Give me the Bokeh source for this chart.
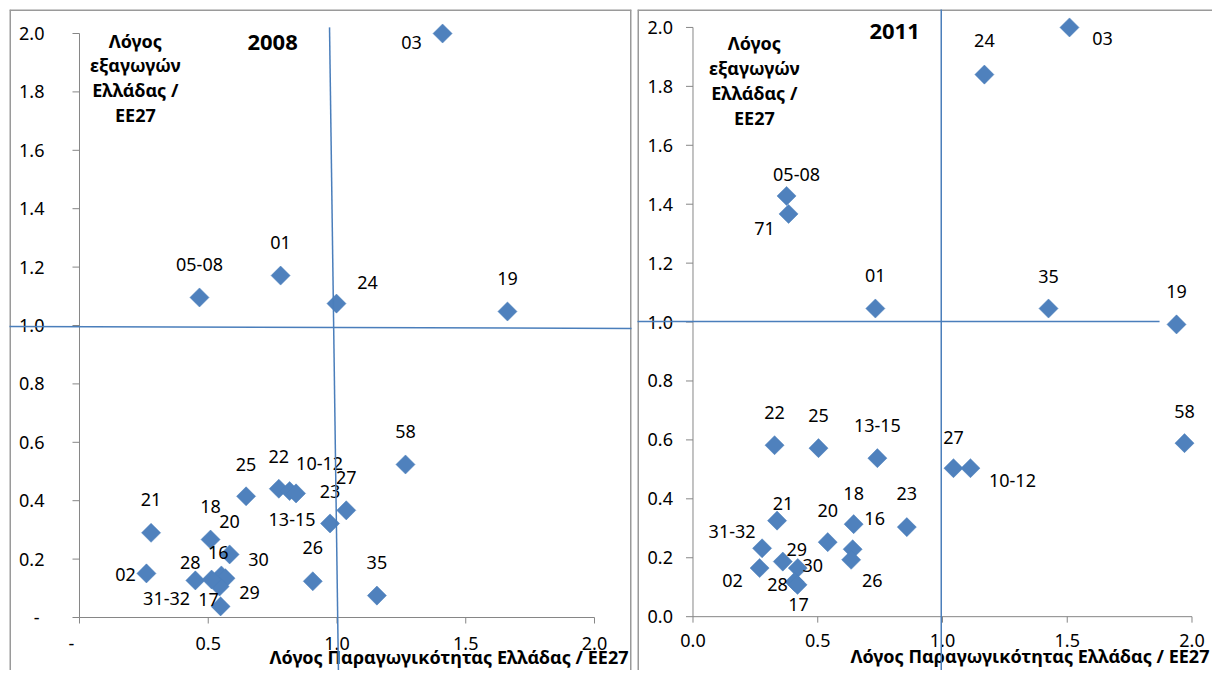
import numpy as np
from bokeh.plotting import figure
from bokeh.layouts import row
from bokeh.models import Range1d
from bokeh.core.properties import value
from bokeh.embed import file_html
from bokeh.resources import INLINE

FONT = value("Noto Sans")
BLUE = "#4f81bd"
LINE_BLUE = "#4a7ebb"
AXIS_GRAY = "#868686"
FRAME_GRAY = "#9a9a9a"

# ---------------- data ----------------
codes_2008 = ["03", "05-08", "01", "24", "19", "58", "25", "22", "10-12", "23",
              "13-15", "27", "21", "18", "20", "16", "30", "28", "29", "31-32",
              "17", "02", "26", "35"]
prod_2008 = [1.410, 0.466, 0.781, 0.998, 1.662, 1.266, 0.647, 0.774, 0.816, 0.841,
             0.973, 1.036, 0.278, 0.509, 0.583, 0.551, 0.567, 0.450, 0.544, 0.513,
             0.548, 0.260, 0.906, 1.155]
exp_2008 = [2.000, 1.096, 1.171, 1.075, 1.048, 0.524, 0.415, 0.441, 0.433, 0.425,
            0.322, 0.367, 0.290, 0.267, 0.216, 0.144, 0.134, 0.127, 0.106, 0.130,
            0.038, 0.151, 0.124, 0.075]

codes_2011 = ["03", "24", "05-08", "71", "01", "35", "19", "58", "22", "25",
              "13-15", "27", "10-12", "18", "23", "16", "26", "20", "21", "31-32",
              "29", "30", "02", "28", "17"]
prod_2011 = [1.509, 1.168, 0.375, 0.383, 0.731, 1.425, 1.938, 1.970, 0.327, 0.503,
             0.739, 1.044, 1.112, 0.644, 0.857, 0.640, 0.634, 0.540, 0.337, 0.277,
             0.360, 0.420, 0.267, 0.407, 0.419]
exp_2011 = [2.000, 1.840, 1.428, 1.367, 1.046, 1.046, 0.992, 0.589, 0.582, 0.572,
            0.538, 0.504, 0.504, 0.314, 0.304, 0.229, 0.193, 0.253, 0.326, 0.232,
            0.187, 0.165, 0.165, 0.118, 0.108]

x_ticks = [0.0, 0.5, 1.0, 1.5, 2.0]
y_ticks = [0.0, 0.2, 0.4, 0.6, 0.8, 1.0, 1.2, 1.4, 1.6, 1.8, 2.0]
x_tick_labels_2008 = ["-", "0.5", "1.0", "1.5", "2.0"]
y_tick_labels_2008 = ["-", "0.2", "0.4", "0.6", "0.8", "1.0", "1.2", "1.4", "1.6", "1.8", "2.0"]
x_tick_labels_2011 = ["0.0", "0.5", "1.0", "1.5", "2.0"]
y_tick_labels_2011 = ["0.0", "0.2", "0.4", "0.6", "0.8", "1.0", "1.2", "1.4", "1.6", "1.8", "2.0"]

x_title = "Λόγος Παραγωγικότητας Ελλάδας / ΕΕ27"
y_title_lines = ["Λόγος", "εξαγωγών", "Ελλάδας /", "ΕΕ27"]

# quadrant reference lines (x list, y list)
ref_2008_h = ([-0.30, 2.15], [0.997, 0.990])
ref_2008_v = ([0.971, 1.006], [2.021, -0.209])
ref_2011_h = ([-0.25, 1.870], [1.002, 1.002])
ref_2011_v = ([0.995, 0.995], [2.10, -0.21])

# ---------------- layout (label offsets in px: dx right, dy down) ----------------
offs_2008 = [(-31, 9), (0, -33), (0, -33), (31, -21), (0, -33), (0, -33), (0, -32),
             (0, -32), (30, -28), (34, -2), (-38, -4), (0, -33), (0, -33), (0, -33),
             (0, -33), (-3, -23), (33, -19), (-5, -18), (30, 6), (-45, 19), (-12, -7),
             (-21, 1), (0, -34), (0, -33)]
offs_2011 = [(33, 11), (0, -34), (10, -22), (-24, 15), (0, -33), (0, -32), (0, -33),
             (0, -32), (0, -33), (0, -33), (0, -33), (0, -31), (42, 12), (0, -31),
             (0, -34), (22, -31), (21, 21), (0, -32), (6, -17), (-30, -17), (14, -12),
             (15, -3), (-27, 12), (-17, 3), (1, 20)]


def panel(codes, xs, ys, offs, xtl, ytl, year, ref_h, ref_v, cfg):
    W, H = cfg["W"], cfg["H"]
    ml, mr, mt = cfg["mb"]
    xr, yr = cfg["xr"], cfg["yr"]
    fw, fh = W - ml - mr, H - mt
    sx = fw / (xr[1] - xr[0])
    sy = fh / (yr[1] - yr[0])

    p = figure(width=W, height=H, x_range=Range1d(*xr), y_range=Range1d(*yr),
               output_backend="svg", toolbar_location=None,
               x_axis_location=None, y_axis_location=None,
               min_border_left=ml, min_border_right=mr, min_border_top=mt,
               min_border_bottom=0)
    p.title.visible = False
    p.grid.visible = False
    p.outline_line_color = None
    p.background_fill_color = "white"
    p.border_fill_color = "white"

    # chart-area frame edges
    ex, ey = [], []
    if "left" in cfg["edges"]:
        ex.append([xr[0], xr[0]]); ey.append([yr[0], yr[1]])
    if "top" in cfg["edges"]:
        ex.append([xr[0], xr[1]]); ey.append([yr[1], yr[1]])
    if "right" in cfg["edges"]:
        ex.append([xr[1], xr[1]]); ey.append([yr[0], yr[1]])
    p.multi_line(ex, ey, line_color=FRAME_GRAY, line_width=3)

    # axes
    p.segment(x0=[0, 0], y0=[0, 0], x1=[0, 2.0], y1=[2.0, 0],
              line_color=AXIS_GRAY, line_width=1)
    p.segment(x0=[-7 / sx] * len(y_ticks), y0=y_ticks, x1=[0] * len(y_ticks), y1=y_ticks,
              line_color=AXIS_GRAY, line_width=1)
    p.segment(x0=x_ticks, y0=[0] * len(x_ticks), x1=x_ticks, y1=[-6 / sy] * len(x_ticks),
              line_color=AXIS_GRAY, line_width=1)

    # tick labels
    ygap = cfg["ygap"]
    ylx = [-(ygap + (cfg["dash_extra"] if t == "-" else 0)) / sx for t in ytl]
    p.text(x=ylx, y=y_ticks, text=ytl, text_font=FONT, text_font_size="18px",
           text_align="right", text_baseline="middle", text_color="black")
    xlx = [v + (cfg["dash_dx"] / sx if t == "-" else 0) for v, t in zip(x_ticks, xtl)]
    p.text(x=xlx, y=[-cfg["xgap"] / sy] * len(x_ticks), text=xtl, text_font=FONT,
           text_font_size="18px", text_align="center", text_baseline="middle",
           text_color="black")

    # axis titles
    tx, ty = cfg["xtitle"]
    p.text(x=[tx], y=[ty], text=[x_title], text_font=FONT, text_font_size="18px",
           text_font_style="bold", text_align="right", text_baseline="middle",
           text_color="black")
    yx, yy0 = cfg["ytitle"]
    p.text(x=[yx] * len(y_title_lines),
           y=[yy0 - i * 24.8 / sy for i in range(len(y_title_lines))],
           text=y_title_lines, text_font=FONT, text_font_size="18px",
           text_font_style="bold", text_align="center", text_baseline="middle",
           text_color="black")
    # year title
    gx, gy = cfg["year_pos"]
    p.text(x=[gx], y=[gy], text=[year], text_font=FONT, text_font_size="22px",
           text_font_style="bold", text_align="center", text_baseline="middle",
           text_color="black")

    # points
    p.scatter(x=xs, y=ys, marker="square", size=13.5, angle=np.pi / 4,
              fill_color=BLUE, line_color=LINE_BLUE, line_width=0.5)

    # point labels
    lx = [x + o[0] / sx for x, o in zip(xs, offs)]
    ly = [y - o[1] / sy for y, o in zip(ys, offs)]
    p.text(x=lx, y=ly, text=codes, text_font=FONT, text_font_size="18px",
           text_align="center", text_baseline="middle", text_color="black")

    # quadrant lines
    p.line(ref_h[0], ref_h[1], line_color=LINE_BLUE, line_width=1.5)
    p.line(ref_v[0], ref_v[1], line_color=LINE_BLUE, line_width=1.5)
    return p


cfg_2008 = dict(W=635, H=670, mb=(9, 4, 9), xr=(-0.2718, 2.1437), yr=(-0.1815, 2.0822),
                edges=("left", "top", "right"), ygap=35, dash_extra=5, dash_dx=-8,
                xgap=26, xtitle=(2.132, -0.135), ytitle=(0.217, 1.976),
                year_pos=(0.750, 1.969))
cfg_2011 = dict(W=577, H=670, mb=(2, 0, 7), xr=(-0.2224, 2.0822), yr=(-0.1827, 2.0609),
                edges=("left", "top"), ygap=20, dash_extra=0, dash_dx=0,
                xgap=24, xtitle=(2.070, -0.132), ytitle=(0.246, 1.946),
                year_pos=(0.808, 1.986))

p1 = panel(codes_2008, prod_2008, exp_2008, offs_2008, x_tick_labels_2008,
           y_tick_labels_2008, "2008", ref_2008_h, ref_2008_v, cfg_2008)
p2 = panel(codes_2011, prod_2011, exp_2011, offs_2011, x_tick_labels_2011,
           y_tick_labels_2011, "2011", ref_2011_h, ref_2011_v, cfg_2011)

layout = row(p1, p2)
open("out.html", "w").write(file_html(layout, INLINE))
